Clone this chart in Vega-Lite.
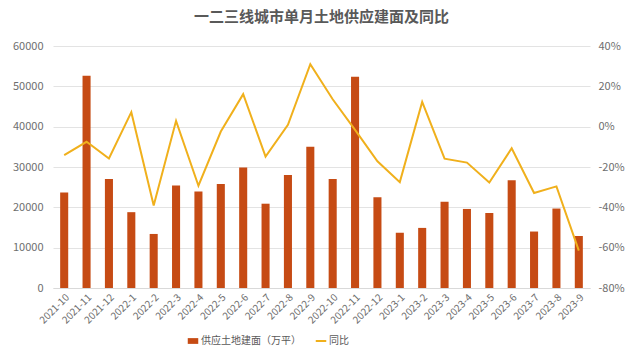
{
  "$schema": "https://vega.github.io/schema/vega-lite/v6.json",
  "width": 537,
  "height": 242,
  "autosize": {"type": "none"},
  "padding": {"left": 53, "top": 46, "right": 47, "bottom": 67},
  "background": "white",
  "config": {"font": "Noto Sans CJK SC", "view": {"stroke": null}},
  "title": {"text": "一二三线城市单月土地供应建面及同比", "anchor": "middle", "offset": 15, "fontSize": 15, "fontWeight": "bold", "color": "#595959", "font": "Noto Sans CJK SC"},
  "data": {"values": [
    {"month": "2021-10", "area": 23700, "yoy": -14.1},
    {"month": "2021-11", "area": 52600, "yoy": -7.5},
    {"month": "2021-12", "area": 27000, "yoy": -15.8},
    {"month": "2022-1", "area": 18800, "yoy": 7.2},
    {"month": "2022-2", "area": 13400, "yoy": -39.1},
    {"month": "2022-3", "area": 25400, "yoy": 2.9},
    {"month": "2022-4", "area": 23900, "yoy": -29.3},
    {"month": "2022-5", "area": 25800, "yoy": -2.4},
    {"month": "2022-6", "area": 29900, "yoy": 16.1},
    {"month": "2022-7", "area": 20900, "yoy": -14.8},
    {"month": "2022-8", "area": 28000, "yoy": 0.9},
    {"month": "2022-9", "area": 35000, "yoy": 31.0},
    {"month": "2022-10", "area": 27000, "yoy": 13.6},
    {"month": "2022-11", "area": 52400, "yoy": -1.6},
    {"month": "2022-12", "area": 22500, "yoy": -17.2},
    {"month": "2023-1", "area": 13700, "yoy": -27.5},
    {"month": "2023-2", "area": 14900, "yoy": 12.3},
    {"month": "2023-3", "area": 21400, "yoy": -15.9},
    {"month": "2023-4", "area": 19600, "yoy": -17.8},
    {"month": "2023-5", "area": 18600, "yoy": -27.7},
    {"month": "2023-6", "area": 26700, "yoy": -10.7},
    {"month": "2023-7", "area": 14000, "yoy": -32.9},
    {"month": "2023-8", "area": 19700, "yoy": -29.6},
    {"month": "2023-9", "area": 12900, "yoy": -61.5}
  ]},
  "encoding": {
    "x": {"field": "month", "type": "ordinal", "sort": null,
      "scale": {"paddingInner": 0.64, "paddingOuter": 0.32},
      "axis": {"title": null, "labelAngle": -45, "labelAlign": "right", "labelBaseline": "top", "labelFontSize": 10, "labelColor": "#6e6e6e", "ticks": false, "domainColor": "#d9d9d9", "labelPadding": 4}}
  },
  "layer": [
    {
      "mark": {"type": "bar", "color": "#C64B14"},
      "encoding": {
        "y": {"field": "area", "type": "quantitative", "scale": {"domain": [0, 60000], "nice": false},
          "axis": {"title": null, "values": [0, 10000, 20000, 30000, 40000, 50000, 60000], "format": "d", "labelFontSize": 11, "labelColor": "#6e6e6e", "domain": false, "ticks": false, "gridColor": "#e3e3e3", "labelPadding": 10}},
        "color": {"datum": "供应土地建面（万平）", "type": "nominal",
          "scale": {"domain": ["供应土地建面（万平）", "同比"], "range": ["#C64B14", "#F0B01C"]},
          "legend": {"title": null, "orient": "none", "legendX": 135, "legendY": 290, "direction": "horizontal", "labelFontSize": 10, "labelColor": "#595959", "columnPadding": 10, "symbolSize": 110, "labelOffset": 3,
            "encode": {"symbols": {"update": {
              "shape": {"signal": "datum.value === '同比' ? 'stroke' : 'M-1,-0.55H1V0.55H-1Z'"},
              "fill": {"signal": "datum.value === '同比' ? 'transparent' : '#C64B14'"},
              "stroke": {"signal": "datum.value === '同比' ? '#F0B01C' : '#C64B14'"},
              "strokeWidth": {"signal": "datum.value === '同比' ? 2 : 0"}
            }}}}}
      }
    },
    {
      "mark": {"type": "line", "color": "#F0B01C", "strokeWidth": 2},
      "encoding": {
        "y": {"field": "yoy", "type": "quantitative", "scale": {"domain": [-80, 40], "nice": false},
          "axis": {"title": null, "orient": "right", "values": [-80, -60, -40, -20, 0, 20, 40], "labelExpr": "datum.value + '%'", "labelFontSize": 11, "labelColor": "#6e6e6e", "domain": false, "ticks": false, "grid": false, "labelPadding": 8}},
        "color": {"datum": "同比", "type": "nominal"}
      }
    }
  ],
  "resolve": {"scale": {"y": "independent"}}
}
